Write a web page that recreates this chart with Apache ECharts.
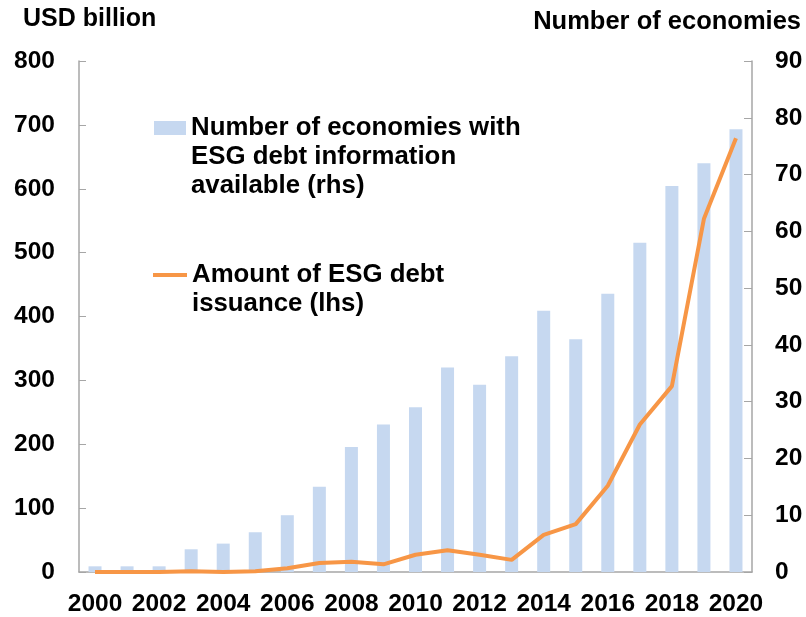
<!DOCTYPE html>
<html>
<head>
<meta charset="utf-8">
<script src="https://cdn.jsdelivr.net/npm/echarts@6/dist/echarts.min.js"></script>
<style>
  html, body { margin: 0; padding: 0; background: #fff; }
  #chart { width: 806px; height: 617px; }
</style>
</head>
<body>
<div id="chart"></div>
<script>
  // values
  const years = ['2000', '2001', '2002', '2003', '2004', '2005', '2006', '2007', '2008', '2009', '2010',
                 '2011', '2012', '2013', '2014', '2015', '2016', '2017', '2018', '2019', '2020'];
  const economies = [1, 1, 1, 4, 5, 7, 10, 15, 22, 26, 29, 36, 33, 38, 46, 41, 49, 58, 68, 72, 78];
  const issuance = [0, 0, 0, 1, 0, 1, 6, 14, 16, 12, 27, 34, 27, 19, 58, 75, 135, 231, 291, 553, 679];

  const barName = 'Number of economies with ESG debt information available (rhs)';
  const lineName = 'Amount of ESG debt issuance (lhs)';
  const barLabel = ['Number of economies with', 'ESG debt information', 'available (rhs)'];
  const lineLabel = ['Amount of ESG debt', 'issuance (lhs)'];

  const font = "'Liberation Sans', Arial, sans-serif";
  const axisGrey = '#a6a6a6';

  let chart = echarts.init(document.getElementById('chart'));

  // legend text is centred on the icon, so blank lines in front put the first line level with it
  function legendText(lines) {
    return '\n'.repeat(lines.length - 1) + lines.join('\n');
  }

  let option = {
    backgroundColor: '#fff',
    animation: false,
    title: [
      {
        text: 'USD billion',
        left: 23, top: 7, padding: 0,
        textStyle: { fontFamily: font, fontWeight: 'bold', fontSize: 25, color: '#000' }
      },
      {
        text: 'Number of economies',
        right: 5, top: 9, padding: 0,
        textStyle: { fontFamily: font, fontWeight: 'bold', fontSize: 25.5, color: '#000' }
      }
    ],
    legend: [
      {
        data: [{ name: barName, icon: 'rect' }],
        left: 154, top: 55.5, padding: 0,
        itemWidth: 32, itemHeight: 14, itemGap: 0,
        formatter: () => legendText(barLabel),
        textStyle: { fontFamily: font, fontWeight: 'bold', fontSize: 25.8, lineHeight: 29, color: '#000' }
      },
      {
        data: [{ name: lineName, icon: 'rect' }],
        left: 153, top: 231.5, padding: 0,
        itemWidth: 34, itemHeight: 4, itemGap: 0,
        formatter: () => legendText(lineLabel),
        textStyle: { fontFamily: font, fontWeight: 'bold', fontSize: 25.8, lineHeight: 29, color: '#000' }
      }
    ],
    grid: {
      left: 79,
      right: 54,
      top: 61,
      bottom: 45
    },
    xAxis: {
      type: 'category',
      data: years,
      boundaryGap: true,
      axisLine: { lineStyle: { color: axisGrey, width: 1.5 } },
      axisTick: { inside: true, length: 8, interval: 0, lineStyle: { color: axisGrey } },
      axisLabel: {
        interval: 1,
        margin: 20,
        fontFamily: font, fontWeight: 'bold', fontSize: 24.5, color: '#000'
      },
      splitLine: { show: false }
    },
    yAxis: [
      {
        type: 'value',
        min: 0, max: 800, interval: 100,
        axisLine: { show: true, lineStyle: { color: axisGrey, width: 1.5 } },
        axisTick: { show: true, inside: true, length: 7, lineStyle: { color: axisGrey } },
        axisLabel: { margin: 24, fontFamily: font, fontWeight: 'bold', fontSize: 24.5, color: '#000' },
        splitLine: { show: false }
      },
      {
        type: 'value',
        min: 0, max: 90, interval: 10,
        position: 'right',
        axisLine: { show: true, lineStyle: { color: axisGrey, width: 1.5 } },
        axisTick: { show: true, inside: true, length: 8, lineStyle: { color: axisGrey } },
        axisLabel: { margin: 23, fontFamily: font, fontWeight: 'bold', fontSize: 24.5, color: '#000' },
        splitLine: { show: false }
      }
    ],
    series: [
      {
        name: barName,
        type: 'bar',
        yAxisIndex: 1,
        data: economies,
        barWidth: 13,
        itemStyle: { color: '#c6d8f0' },
        z: 1
      },
      {
        name: lineName,
        type: 'line',
        yAxisIndex: 0,
        data: issuance,
        symbol: 'none',
        lineStyle: { color: '#f79646', width: 4 },
        itemStyle: { color: '#f79646' },
        z: 3
      }
    ]
  };
  chart.setOption(option);
</script>
</body>
</html>
